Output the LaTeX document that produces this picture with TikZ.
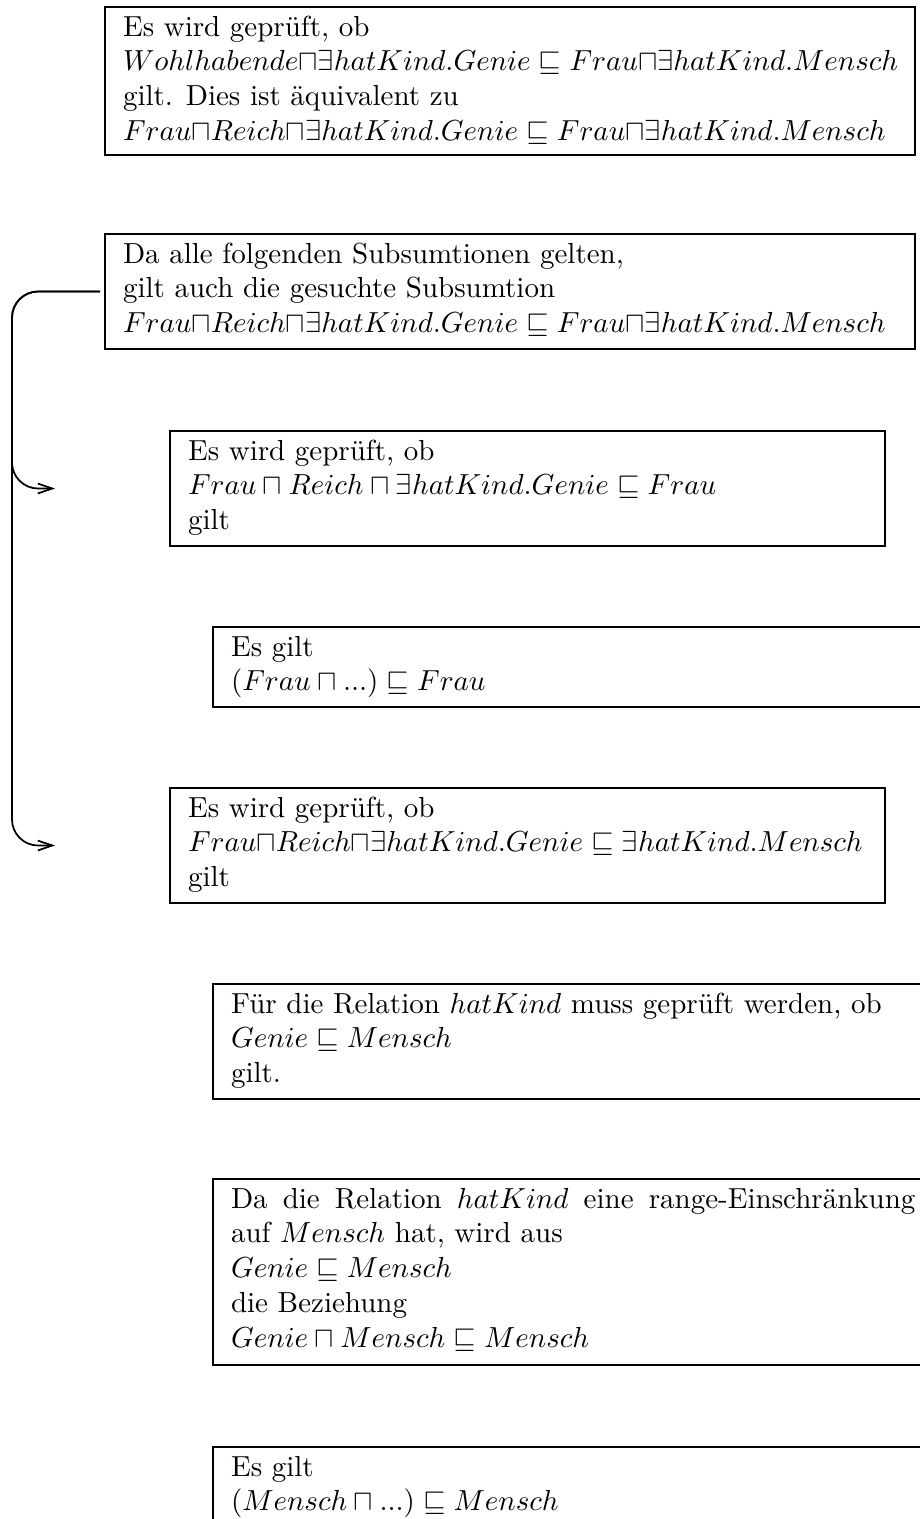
\documentclass[tikz,border=0pt]{standalone}
\usetikzlibrary{calc,arrows.meta}
\newcommand\pxu{0.3448pt}
\tikzset{
  bx/.style 2 args={draw, line width=1pt, inner sep=0pt, outer sep=0pt,
    anchor=north west, minimum width=#1*\pxu, minimum height=#2*\pxu},
  txt/.style={inner sep=0pt, outer sep=0pt, font=\normalsize, anchor=base west},
  conn/.style={line width=0.6pt, rounded corners=9pt,
    -{Straight Barb[length=5pt,width=3.4pt]}, shorten <=1.7pt}
}
\begin{document}
\begin{tikzpicture}[x=0.3448pt,y=-0.3448pt]
\useasboundingbox (0,0) rectangle (920,1519);
\clip (0,0) rectangle (920,1519);

% boxes
\node[bx={810}{148}] (A) at (105,7) {};
\node[bx={810}{115}] (B) at (105,234) {};
\node[bx={715}{115}] (C) at (170,431) {};
\node[bx={800}{80}]  (D) at (213,627) {};
\node[bx={715}{115}] (E) at (170,788) {};
\node[bx={800}{115}] (F) at (213,984) {};
\node[bx={800}{186}] (G) at (213,1179) {};
\node[bx={800}{80}]  (H) at (213,1447) {};

% texts
\node[txt] (At) at ($(A.north west)+(18,29)$) {\begin{tabular}[t]{@{}l@{}}
Es wird geprüft, ob\\
$Wohlhabende{\sqcap}\exists hatKind.Genie \sqsubseteq Frau{\sqcap}\exists hatKind.Mensch$\\
gilt. Dies ist äquivalent zu\\
$Frau{\sqcap}Reich{\sqcap}\exists hatKind.Genie \sqsubseteq Frau{\sqcap}\exists hatKind.Mensch$
\end{tabular}};

\node[txt] (Bt) at ($(B.north west)+(18,29)$) {\begin{tabular}[t]{@{}l@{}}
Da alle folgenden Subsumtionen gelten,\\
gilt auch die gesuchte Subsumtion\\
$Frau{\sqcap}Reich{\sqcap}\exists hatKind.Genie \sqsubseteq Frau{\sqcap}\exists hatKind.Mensch$
\end{tabular}};

\node[txt] (Ct) at ($(C.north west)+(18,29)$) {\begin{tabular}[t]{@{}l@{}}
Es wird geprüft, ob\\
$Frau \sqcap Reich \sqcap \exists hatKind.Genie \sqsubseteq Frau$\\
gilt
\end{tabular}};

\node[txt] (Dt) at ($(D.north west)+(18,29)$) {\begin{tabular}[t]{@{}l@{}}
Es gilt\\
$(Frau \sqcap ...) \sqsubseteq Frau$
\end{tabular}};

\node[txt] (Et) at ($(E.north west)+(18,29)$) {\begin{tabular}[t]{@{}l@{}}
Es wird geprüft, ob\\
$Frau{\sqcap}Reich{\sqcap}\exists hatKind.Genie \sqsubseteq \exists hatKind.Mensch$\\
gilt
\end{tabular}};

\node[txt] (Ft) at ($(F.north west)+(18,29)$) {\begin{tabular}[t]{@{}l@{}}
Für die Relation $hatKind$ muss geprüft werden, ob\\
$Genie \sqsubseteq Mensch$\\
gilt.
\end{tabular}};

\node[txt] (Gt) at ($(G.north west)+(18,29)$) {\begin{tabular}[t]{@{}l@{}}
\makebox[236pt][s]{Da die Relation $hatKind$ eine range-Einschränkung}\\
auf $Mensch$ hat, wird aus\\
$Genie \sqsubseteq Mensch$\\
die Beziehung\\
$Genie \sqcap Mensch \sqsubseteq Mensch$
\end{tabular}};

\node[txt] (Ht) at ($(H.north west)+(18,29)$) {\begin{tabular}[t]{@{}l@{}}
Es gilt\\
$(Mensch \sqcap ...) \sqsubseteq Mensch$
\end{tabular}};

% connectors
\coordinate (L) at (12,0);
\coordinate (X) at (55,0);
\draw[conn] (B.west) -- (B.west -| L) -- (C.west -| L) -- (C.west -| X);
\draw[conn] (B.west) -- (B.west -| L) -- (E.west -| L) -- (E.west -| X);
\end{tikzpicture}
\end{document}
